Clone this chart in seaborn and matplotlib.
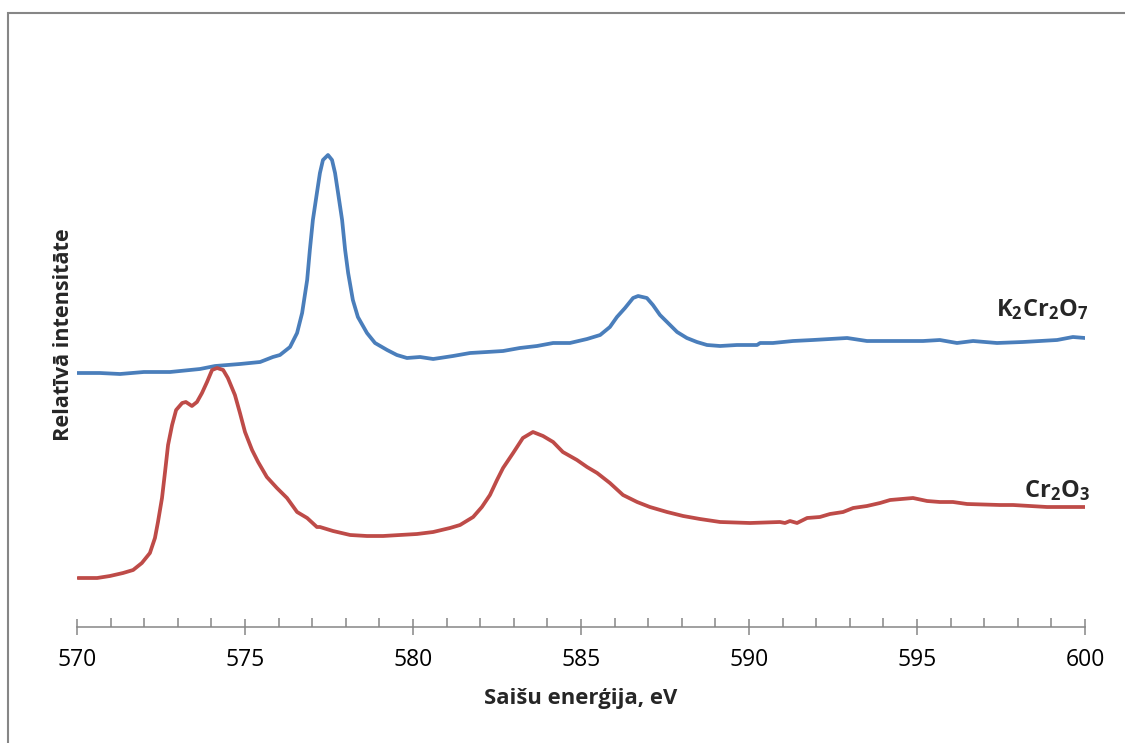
import matplotlib
matplotlib.use("Agg")
import matplotlib.pyplot as plt
from matplotlib.patches import Rectangle
from matplotlib.ticker import MultipleLocator
import numpy as np
import pandas as pd
import seaborn as sns

# Cr 2p XPS spectra: binding energy (eV) and relative intensity (arb. units)
k2cr2o7_energy = [570.00, 570.68, 571.28, 571.99, 572.77, 573.66, 574.11, 574.85, 575.45, 575.83,
                  576.04, 576.34, 576.55, 576.70, 576.85, 576.93, 577.02, 577.14, 577.23, 577.32,
                  577.47, 577.59, 577.68, 577.77, 577.89, 577.98, 578.07, 578.21, 578.36, 578.63,
                  578.87, 579.23, 579.52, 579.82, 580.21, 580.60, 580.80, 581.19, 581.70, 582.20,
                  582.68, 583.18, 583.69, 584.17, 584.67, 585.18, 585.57, 585.86, 586.07, 586.31,
                  586.55, 586.70, 586.96, 587.14, 587.35, 587.59, 587.86, 588.15, 588.45, 588.75,
                  589.14, 589.64, 590.24, 590.33, 590.71, 591.31, 591.90, 592.92, 593.51, 594.20,
                  595.18, 595.68, 596.19, 596.67, 597.38, 598.15, 599.17, 599.64, 600.00]
k2cr2o7_intensity = [254, 254, 253, 255, 255, 258, 261, 263, 265, 270,
                     272, 280, 294, 314, 347, 377, 407, 434, 454, 467,
                     472, 467, 454, 434, 407, 377, 354, 327, 310, 294,
                     284, 277, 272, 269, 270, 268, 269, 271, 274, 275,
                     276, 279, 281, 284, 284, 288, 292, 300, 310, 319,
                     329, 331, 329, 322, 312, 304, 295, 289, 285, 282,
                     281, 282, 282, 284, 284, 286, 287, 289, 286, 286,
                     286, 287, 284, 286, 284, 285, 287, 290, 289]

cr2o3_energy = [570.03, 570.60, 570.98, 571.37, 571.67, 571.93, 572.17, 572.32, 572.41, 572.53,
                572.62, 572.71, 572.83, 572.95, 573.13, 573.24, 573.42, 573.57, 573.72, 573.87,
                574.02, 574.17, 574.35, 574.49, 574.70, 574.85, 575.00, 575.21, 575.39, 575.65,
                575.95, 576.25, 576.55, 576.85, 577.14, 577.23, 577.62, 578.13, 578.63, 579.11,
                579.61, 580.12, 580.60, 581.10, 581.40, 581.79, 582.05, 582.29, 582.50, 582.68,
                582.98, 583.27, 583.57, 583.87, 584.17, 584.46, 584.88, 585.18, 585.48, 585.86,
                586.25, 586.67, 587.05, 587.56, 588.04, 588.54, 589.14, 590.03, 590.92, 591.07,
                591.22, 591.43, 591.73, 592.11, 592.41, 592.80, 593.10, 593.51, 593.90, 594.20,
                594.88, 595.30, 595.68, 596.07, 596.49, 597.47, 597.86, 598.87, 600.00]
cr2o3_intensity = [49, 49, 51, 54, 57, 64, 74, 89, 105, 129,
                   155, 182, 202, 217, 224, 225, 221, 225, 234, 245,
                   257, 259, 257, 249, 232, 214, 195, 177, 165, 150,
                   139, 129, 115, 109, 100, 100, 96, 92, 91, 91,
                   92, 93, 95, 99, 102, 110, 120, 132, 147, 159,
                   174, 189, 195, 191, 185, 175, 167, 160, 154, 144,
                   132, 125, 120, 115, 111, 108, 105, 104, 105, 104,
                   106, 104, 109, 110, 113, 115, 119, 121, 124, 127,
                   129, 126, 125, 125, 123, 122, 122, 120, 120]

x_ticks = [570, 575, 580, 585, 590, 595, 600]
x_label = "Saišu enerģija, eV"
y_label = "Relatīvā intensitāte"

sns.set_style("white")
plt.rcParams["font.family"] = ["Open Sans", "DejaVu Sans"]
plt.rcParams["mathtext.fontset"] = "custom"
plt.rcParams["mathtext.rm"] = "Open Sans:bold"
plt.rcParams["mathtext.it"] = "Open Sans:bold"
plt.rcParams["mathtext.bf"] = "Open Sans:bold"

blue = "#4A7EBB"
red = "#BE4B48"
grey = "#868686"

fig = plt.figure(figsize=(11.25, 7.43), dpi=100)
W, H = 1125, 743
ax = fig.add_axes([77 / W, (H - 627) / H, 1008 / W, 584 / H])

df_k = pd.DataFrame({"E": k2cr2o7_energy, "I": k2cr2o7_intensity})
df_c = pd.DataFrame({"E": cr2o3_energy, "I": cr2o3_intensity})
sns.lineplot(data=df_k, x="E", y="I", ax=ax, color=blue, linewidth=2.7, sort=False)
sns.lineplot(data=df_c, x="E", y="I", ax=ax, color=red, linewidth=2.7, sort=False)

ax.set_xlim(570, 600)
ax.set_ylim(0, 584)
ax.set_xticks(x_ticks)
ax.xaxis.set_minor_locator(MultipleLocator(1))
ax.set_yticks([])

for s in ["top", "right", "left"]:
    ax.spines[s].set_visible(False)
ax.spines["bottom"].set_color(grey)
ax.spines["bottom"].set_linewidth(1.1)

ax.tick_params(axis="x", which="major", direction="inout", length=12, width=1.1,
               color=grey, labelsize=16.5, pad=9, labelcolor="black", bottom=True)
ax.tick_params(axis="x", which="minor", direction="in", length=6.5, width=1.1,
               color=grey, bottom=True)

ax.set_xlabel(x_label, fontsize=15.8, fontweight="bold")
ax.xaxis.set_label_coords(0.5, (627 - 688) / 584)
ax.xaxis.label.set_va("top")
ax.set_ylabel(y_label, fontsize=15.6, fontweight="bold")
ax.yaxis.set_label_coords((74 - 77) / 1008, (627 - 335) / 584)

# Series labels at the right end of each curve
ax.text(600.1, 317, r"$\mathbf{K_2Cr_2O_7}$", ha="right", va="center", fontsize=17)
ax.text(600.15, 136, r"$\mathbf{Cr_2O_3}$", ha="right", va="center", fontsize=17)

# Chart area frame
fig.patches.append(Rectangle((8 / W, -0.1), 1.2, 1.1 - 13 / H, transform=fig.transFigure,
                             fill=False, edgecolor=grey, linewidth=1.5))

fig.savefig("out.png", dpi=100, facecolor="white")
